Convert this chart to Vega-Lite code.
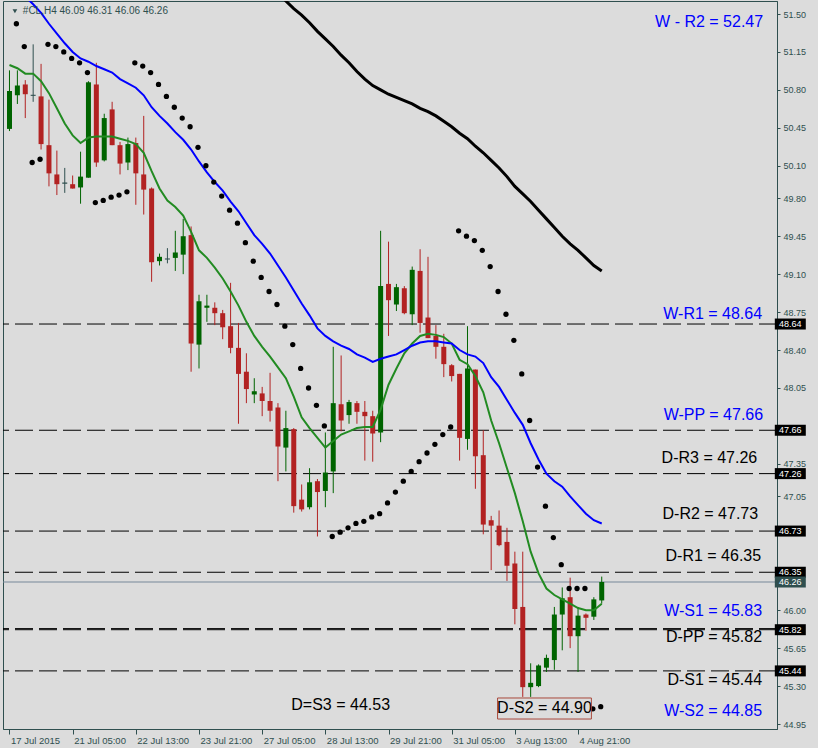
{
  "$schema": "https://vega.github.io/schema/vega-lite/v6.json",
  "width": 774,
  "height": 728,
  "autosize": {"type": "none"},
  "padding": {"left": 3, "top": 1, "right": 41, "bottom": 19},
  "background": "#DCDCDC",
  "config": {
    "view": {"stroke": "#2F4F4F", "strokeWidth": 1, "fill": "#DCDCDC"},
    "font": "Liberation Sans",
    "axis": {"labelOverlap": false, "labelFlush": false, "grid": false}
  },
  "resolve": {"scale": {"color": "independent"}},
  "datasets": {
    "bars": [
      {"k":0,"o":50.44,"h":50.98,"l":50.42,"c":50.79,"dir":"up"},
      {"k":1,"o":50.75,"h":50.98,"l":50.67,"c":50.84,"dir":"up"},
      {"k":2,"o":50.85,"h":50.89,"l":50.54,"c":50.76,"dir":"down"},
      {"k":3,"o":50.755,"h":51.22,"l":50.69,"c":50.745,"dir":"doji"},
      {"k":4,"o":50.74,"h":51.04,"l":50.25,"c":50.30,"dir":"down"},
      {"k":5,"o":50.29,"h":50.71,"l":49.91,"c":50.03,"dir":"down"},
      {"k":6,"o":50.02,"h":50.24,"l":49.83,"c":49.93,"dir":"down"},
      {"k":7,"o":49.945,"h":50.08,"l":49.85,"c":49.935,"dir":"doji"},
      {"k":8,"o":49.93,"h":50.01,"l":49.89,"c":49.89,"dir":"down"},
      {"k":9,"o":49.90,"h":50.23,"l":49.75,"c":50.00,"dir":"up"},
      {"k":10,"o":49.99,"h":50.88,"l":49.99,"c":50.87,"dir":"up"},
      {"k":11,"o":50.85,"h":51.05,"l":50.09,"c":50.13,"dir":"down"},
      {"k":12,"o":50.15,"h":50.58,"l":50.14,"c":50.54,"dir":"up"},
      {"k":13,"o":50.62,"h":50.69,"l":50.29,"c":50.29,"dir":"down"},
      {"k":14,"o":50.29,"h":50.32,"l":50.02,"c":50.12,"dir":"down"},
      {"k":15,"o":50.13,"h":50.36,"l":50.06,"c":50.30,"dir":"up"},
      {"k":16,"o":50.31,"h":50.36,"l":49.74,"c":50.03,"dir":"down"},
      {"k":17,"o":50.02,"h":50.56,"l":49.65,"c":49.88,"dir":"down"},
      {"k":18,"o":49.89,"h":49.90,"l":49.03,"c":49.21,"dir":"down"},
      {"k":19,"o":49.22,"h":49.29,"l":49.18,"c":49.26,"dir":"up"},
      {"k":20,"o":49.245,"h":49.34,"l":49.20,"c":49.235,"dir":"doji"},
      {"k":21,"o":49.25,"h":49.50,"l":49.13,"c":49.30,"dir":"up"},
      {"k":22,"o":49.28,"h":49.61,"l":49.10,"c":49.45,"dir":"up"},
      {"k":23,"o":49.46,"h":49.54,"l":48.20,"c":48.46,"dir":"down"},
      {"k":24,"o":48.45,"h":48.91,"l":48.23,"c":48.85,"dir":"up"},
      {"k":25,"o":48.79,"h":48.91,"l":48.66,"c":48.81,"dir":"up"},
      {"k":26,"o":48.79,"h":48.84,"l":48.63,"c":48.74,"dir":"down"},
      {"k":27,"o":48.74,"h":48.77,"l":48.50,"c":48.61,"dir":"down"},
      {"k":28,"o":48.62,"h":49.02,"l":48.37,"c":48.42,"dir":"down"},
      {"k":29,"o":48.42,"h":48.65,"l":47.72,"c":48.18,"dir":"down"},
      {"k":30,"o":48.20,"h":48.37,"l":47.91,"c":48.04,"dir":"down"},
      {"k":31,"o":47.99,"h":48.14,"l":47.91,"c":48.02,"dir":"up"},
      {"k":32,"o":48.00,"h":48.06,"l":47.79,"c":47.93,"dir":"down"},
      {"k":33,"o":47.93,"h":48.19,"l":47.74,"c":47.84,"dir":"down"},
      {"k":34,"o":47.87,"h":47.91,"l":47.19,"c":47.51,"dir":"down"},
      {"k":35,"o":47.50,"h":47.84,"l":47.28,"c":47.68,"dir":"up"},
      {"k":36,"o":47.67,"h":47.68,"l":46.90,"c":46.96,"dir":"down"},
      {"k":37,"o":47.02,"h":47.16,"l":46.91,"c":46.93,"dir":"down"},
      {"k":38,"o":46.95,"h":47.31,"l":46.93,"c":47.18,"dir":"up"},
      {"k":39,"o":47.19,"h":47.21,"l":46.68,"c":47.09,"dir":"down"},
      {"k":40,"o":47.10,"h":47.64,"l":46.95,"c":47.27,"dir":"up"},
      {"k":41,"o":47.28,"h":48.43,"l":47.08,"c":47.91,"dir":"up"},
      {"k":42,"o":47.90,"h":48.35,"l":47.65,"c":47.75,"dir":"down"},
      {"k":43,"o":47.80,"h":47.94,"l":47.72,"c":47.92,"dir":"up"},
      {"k":44,"o":47.91,"h":47.93,"l":47.72,"c":47.83,"dir":"down"},
      {"k":45,"o":47.83,"h":47.93,"l":47.38,"c":47.79,"dir":"down"},
      {"k":46,"o":47.79,"h":47.84,"l":47.37,"c":47.63,"dir":"down"},
      {"k":47,"o":47.64,"h":49.50,"l":47.55,"c":48.99,"dir":"up"},
      {"k":48,"o":49.01,"h":49.40,"l":48.53,"c":48.86,"dir":"down"},
      {"k":49,"o":48.82,"h":49.01,"l":48.76,"c":48.98,"dir":"up"},
      {"k":50,"o":48.97,"h":48.99,"l":48.73,"c":48.74,"dir":"down"},
      {"k":51,"o":48.73,"h":49.17,"l":48.63,"c":49.14,"dir":"up"},
      {"k":52,"o":49.13,"h":49.33,"l":48.56,"c":48.65,"dir":"down"},
      {"k":53,"o":48.70,"h":49.26,"l":48.51,"c":48.51,"dir":"down"},
      {"k":54,"o":48.53,"h":48.63,"l":48.32,"c":48.43,"dir":"down"},
      {"k":55,"o":48.43,"h":48.55,"l":48.15,"c":48.27,"dir":"down"},
      {"k":56,"o":48.26,"h":48.27,"l":48.11,"c":48.16,"dir":"down"},
      {"k":57,"o":48.18,"h":48.18,"l":47.38,"c":47.59,"dir":"down"},
      {"k":58,"o":47.58,"h":48.62,"l":47.48,"c":48.23,"dir":"up"},
      {"k":59,"o":48.22,"h":48.22,"l":47.12,"c":47.42,"dir":"down"},
      {"k":60,"o":47.43,"h":47.66,"l":46.70,"c":46.79,"dir":"down"},
      {"k":61,"o":46.83,"h":46.87,"l":46.37,"c":46.78,"dir":"down"},
      {"k":62,"o":46.78,"h":46.92,"l":46.59,"c":46.60,"dir":"down"},
      {"k":63,"o":46.63,"h":46.76,"l":46.27,"c":46.41,"dir":"down"},
      {"k":64,"o":46.43,"h":46.54,"l":45.87,"c":46.01,"dir":"down"},
      {"k":65,"o":46.03,"h":46.54,"l":45.20,"c":45.29,"dir":"down"},
      {"k":66,"o":45.29,"h":45.51,"l":45.20,"c":45.33,"dir":"up"},
      {"k":67,"o":45.30,"h":45.50,"l":45.29,"c":45.49,"dir":"up"},
      {"k":68,"o":45.47,"h":45.59,"l":45.43,"c":45.56,"dir":"up"},
      {"k":69,"o":45.54,"h":46.03,"l":45.45,"c":45.96,"dir":"up"},
      {"k":70,"o":45.96,"h":46.21,"l":45.63,"c":46.11,"dir":"up"},
      {"k":71,"o":46.12,"h":46.30,"l":45.65,"c":45.76,"dir":"down"},
      {"k":72,"o":45.76,"h":46.03,"l":45.43,"c":45.95,"dir":"up"},
      {"k":73,"o":45.96,"h":45.97,"l":45.81,"c":45.93,"dir":"down"},
      {"k":74,"o":45.94,"h":46.12,"l":45.91,"c":46.10,"dir":"up"},
      {"k":75,"o":46.09,"h":46.31,"l":46.06,"c":46.26,"dir":"up"}
    ],
    "blue": [
      {"k":0,"v":51.84},{"k":1,"v":51.75},{"k":2,"v":51.66},{"k":3,"v":51.59},{"k":4,"v":51.51},
      {"k":5,"v":51.41},{"k":6,"v":51.32},{"k":7,"v":51.23},{"k":8,"v":51.15},{"k":9,"v":51.09},
      {"k":10,"v":51.06},{"k":11,"v":51.02},{"k":12,"v":50.99},{"k":13,"v":50.96},{"k":14,"v":50.90},
      {"k":15,"v":50.86},{"k":16,"v":50.82},{"k":17,"v":50.75},{"k":18,"v":50.64},{"k":19,"v":50.56},
      {"k":20,"v":50.49},{"k":21,"v":50.41},{"k":22,"v":50.34},{"k":23,"v":50.25},{"k":24,"v":50.14},
      {"k":25,"v":50.04},{"k":26,"v":49.95},{"k":27,"v":49.87},{"k":28,"v":49.77},{"k":29,"v":49.68},
      {"k":30,"v":49.57},{"k":31,"v":49.46},{"k":32,"v":49.38},{"k":33,"v":49.29},{"k":34,"v":49.18},
      {"k":35,"v":49.07},{"k":36,"v":48.95},{"k":37,"v":48.83},{"k":38,"v":48.72},{"k":39,"v":48.60},
      {"k":40,"v":48.53},{"k":41,"v":48.48},{"k":42,"v":48.44},{"k":43,"v":48.41},{"k":44,"v":48.36},
      {"k":45,"v":48.33},{"k":46,"v":48.29},{"k":47,"v":48.32},{"k":48,"v":48.34},{"k":49,"v":48.36},
      {"k":50,"v":48.40},{"k":51,"v":48.44},{"k":52,"v":48.47},{"k":53,"v":48.48},{"k":54,"v":48.48},
      {"k":55,"v":48.47},{"k":56,"v":48.46},{"k":57,"v":48.40},{"k":58,"v":48.36},{"k":59,"v":48.34},
      {"k":60,"v":48.28},{"k":61,"v":48.15},{"k":62,"v":48.06},{"k":63,"v":47.94},{"k":64,"v":47.82},
      {"k":65,"v":47.71},{"k":66,"v":47.54},{"k":67,"v":47.39},{"k":68,"v":47.26},{"k":69,"v":47.19},
      {"k":70,"v":47.14},{"k":71,"v":47.05},{"k":72,"v":46.97},{"k":73,"v":46.89},{"k":74,"v":46.83},
      {"k":75,"v":46.80}
    ],
    "green": [
      {"k":0,"v":51.03},{"k":1,"v":51.00},{"k":2,"v":50.95},{"k":3,"v":50.95},{"k":4,"v":50.88},
      {"k":5,"v":50.77},{"k":6,"v":50.63},{"k":7,"v":50.49},{"k":8,"v":50.38},{"k":9,"v":50.31},
      {"k":10,"v":50.36},{"k":11,"v":50.37},{"k":12,"v":50.37},{"k":13,"v":50.37},{"k":14,"v":50.35},
      {"k":15,"v":50.33},{"k":16,"v":50.30},{"k":17,"v":50.22},{"k":18,"v":50.05},{"k":19,"v":49.89},
      {"k":20,"v":49.78},{"k":21,"v":49.72},{"k":22,"v":49.64},{"k":23,"v":49.49},{"k":24,"v":49.32},
      {"k":25,"v":49.25},{"k":26,"v":49.16},{"k":27,"v":49.06},{"k":28,"v":48.94},{"k":29,"v":48.81},
      {"k":30,"v":48.66},{"k":31,"v":48.53},{"k":32,"v":48.43},{"k":33,"v":48.34},{"k":34,"v":48.24},
      {"k":35,"v":48.14},{"k":36,"v":47.97},{"k":37,"v":47.78},{"k":38,"v":47.68},{"k":39,"v":47.59},
      {"k":40,"v":47.50},{"k":41,"v":47.56},{"k":42,"v":47.62},{"k":43,"v":47.65},{"k":44,"v":47.68},
      {"k":45,"v":47.69},{"k":46,"v":47.69},{"k":47,"v":47.85},{"k":48,"v":48.08},{"k":49,"v":48.23},
      {"k":50,"v":48.37},{"k":51,"v":48.46},{"k":52,"v":48.53},{"k":53,"v":48.55},{"k":54,"v":48.54},
      {"k":55,"v":48.52},{"k":56,"v":48.46},{"k":57,"v":48.31},{"k":58,"v":48.27},{"k":59,"v":48.16},
      {"k":60,"v":48.01},{"k":61,"v":47.75},{"k":62,"v":47.54},{"k":63,"v":47.31},{"k":64,"v":47.08},
      {"k":65,"v":46.82},{"k":66,"v":46.54},{"k":67,"v":46.34},{"k":68,"v":46.20},{"k":69,"v":46.14},
      {"k":70,"v":46.10},{"k":71,"v":46.06},{"k":72,"v":46.02},{"k":73,"v":46.00},{"k":74,"v":46.00},
      {"k":75,"v":46.06}
    ],
    "black": [
      {"k":34,"v":51.70},{"k":35,"v":51.62},{"k":36,"v":51.55},{"k":37,"v":51.49},{"k":38,"v":51.42},
      {"k":39,"v":51.34},{"k":40,"v":51.27},{"k":41,"v":51.20},{"k":42,"v":51.12},{"k":43,"v":51.05},
      {"k":44,"v":50.97},{"k":45,"v":50.90},{"k":46,"v":50.84},{"k":47,"v":50.80},{"k":48,"v":50.76},
      {"k":49,"v":50.73},{"k":50,"v":50.70},{"k":51,"v":50.67},{"k":52,"v":50.63},{"k":53,"v":50.60},
      {"k":54,"v":50.56},{"k":55,"v":50.51},{"k":56,"v":50.46},{"k":57,"v":50.40},{"k":58,"v":50.35},
      {"k":59,"v":50.28},{"k":60,"v":50.22},{"k":61,"v":50.15},{"k":62,"v":50.08},{"k":63,"v":50.00},
      {"k":64,"v":49.91},{"k":65,"v":49.84},{"k":66,"v":49.77},{"k":67,"v":49.69},{"k":68,"v":49.61},
      {"k":69,"v":49.53},{"k":70,"v":49.45},{"k":71,"v":49.38},{"k":72,"v":49.32},{"k":73,"v":49.25},
      {"k":74,"v":49.18},{"k":75,"v":49.13}
    ],
    "sar": [
      {"k":1,"v":51.41},{"k":2,"v":51.20},{"k":3,"v":50.13},{"k":4,"v":50.16},{"k":5,"v":51.22},
      {"k":6,"v":51.20},{"k":7,"v":51.15},{"k":8,"v":51.09},{"k":9,"v":51.05},{"k":10,"v":50.96},
      {"k":11,"v":49.76},{"k":12,"v":49.78},{"k":13,"v":49.81},{"k":14,"v":49.83},{"k":15,"v":49.86},
      {"k":16,"v":51.05},{"k":17,"v":51.02},{"k":18,"v":50.96},{"k":19,"v":50.85},{"k":20,"v":50.74},
      {"k":21,"v":50.64},{"k":22,"v":50.54},{"k":23,"v":50.46},{"k":24,"v":50.27},{"k":25,"v":50.10},
      {"k":26,"v":49.95},{"k":27,"v":49.82},{"k":28,"v":49.69},{"k":29,"v":49.57},{"k":30,"v":49.39},
      {"k":31,"v":49.22},{"k":32,"v":49.07},{"k":33,"v":48.94},{"k":34,"v":48.82},{"k":35,"v":48.62},
      {"k":36,"v":48.45},{"k":37,"v":48.23},{"k":38,"v":48.05},{"k":39,"v":47.89},{"k":40,"v":47.70},
      {"k":41,"v":46.68},{"k":42,"v":46.72},{"k":43,"v":46.76},{"k":44,"v":46.80},{"k":45,"v":46.82},
      {"k":46,"v":46.86},{"k":47,"v":46.89},{"k":48,"v":46.99},{"k":49,"v":47.09},{"k":50,"v":47.19},
      {"k":51,"v":47.28},{"k":52,"v":47.37},{"k":53,"v":47.45},{"k":54,"v":47.53},{"k":55,"v":47.62},
      {"k":56,"v":47.69},{"k":57,"v":49.50},{"k":58,"v":49.45},{"k":59,"v":49.41},{"k":60,"v":49.32},
      {"k":61,"v":49.17},{"k":62,"v":48.94},{"k":63,"v":48.73},{"k":64,"v":48.49},{"k":65,"v":48.18},
      {"k":66,"v":47.75},{"k":67,"v":47.32},{"k":68,"v":46.96},{"k":69,"v":46.67},{"k":70,"v":46.42},
      {"k":71,"v":46.20},{"k":72,"v":46.20},{"k":73,"v":46.20},{"k":74,"v":45.09},{"k":75,"v":45.11}
    ],
    "levels": [
      {"v":48.64},{"v":47.66},{"v":47.26},{"v":46.73},{"v":46.35},{"v":45.83},{"v":45.82},{"v":45.44}
    ],
    "tags": [
      {"v":48.64,"t":"48.64"},{"v":47.66,"t":"47.66"},{"v":47.26,"t":"47.26"},{"v":46.73,"t":"46.73"},
      {"v":46.35,"t":"46.35"},{"v":45.82,"t":"45.82"},{"v":45.44,"t":"45.44"}
    ],
    "rlabels": [
      {"k":95.44,"v":51.43,"t":"W - R2 = 52.47","g":"W"},
      {"k":95.31,"v":48.73,"t":"W-R1 = 48.64","g":"W"},
      {"k":95.44,"v":47.80,"t":"W-PP = 47.66","g":"W"},
      {"k":94.69,"v":47.40,"t":"D-R3 = 47.26","g":"D"},
      {"k":94.81,"v":46.89,"t":"D-R2 = 47.73","g":"D"},
      {"k":95.19,"v":46.50,"t":"D-R1 = 46.35","g":"D"},
      {"k":95.31,"v":45.99,"t":"W-S1 = 45.83","g":"W"},
      {"k":95.31,"v":45.75,"t":"D-PP = 45.82","g":"D"},
      {"k":95.31,"v":45.36,"t":"D-S1 = 45.44","g":"D"},
      {"k":95.31,"v":45.07,"t":"W-S2 = 44.85","g":"W"}
    ],
    "clabels": [
      {"k":41.94,"v":45.13,"t":"D=S3 = 44.53"},
      {"k":67.75,"v":45.10,"t":"D-S2 = 44.90"}
    ]
  },
  "layer": [
    {
      "data": {"name": "levels"},
      "mark": {"type": "rule", "color": "black", "strokeWidth": 1, "strokeDash": [18, 6]},
      "encoding": {
        "y": {
          "field": "v", "type": "quantitative",
          "scale": {"domain": [44.904, 51.620], "nice": false, "zero": false},
          "axis": {
            "orient": "right", "title": null, "grid": false,
            "values": [51.50, 51.15, 50.80, 50.45, 50.10, 49.80, 49.45, 49.10, 48.75, 48.40, 48.05, 47.35, 47.05, 46.00, 45.65, 45.30, 44.95],
            "format": ".2f", "tickSize": 3, "labelPadding": 3,
            "labelFont": "Liberation Sans", "labelFontSize": 9,
            "labelColor": "#2F4F4F", "tickColor": "#2F4F4F", "domainColor": "#2F4F4F",
            "labelOverlap": false
          }
        }
      }
    },
    {
      "data": {"values": [{"t": "46.26"}]},
      "mark": {"type": "rule", "color": "#778899", "strokeWidth": 1},
      "encoding": {"y": {"datum": 46.26, "type": "quantitative", "axis": {"title": null}}}
    },
    {
      "data": {"name": "bars"},
      "mark": {"type": "rule", "strokeWidth": 1},
      "encoding": {
        "x": {
          "field": "k", "type": "quantitative",
          "scale": {"domain": [-0.1875, 96.5625], "nice": false, "zero": false},
          "axis": {
            "orient": "bottom", "title": null, "grid": false,
            "values": [0, 8, 16, 24, 32, 40, 48, 56, 64, 72],
            "labelExpr": "['17 Jul 2015','21 Jul 05:00','22 Jul 13:00','23 Jul 21:00','27 Jul 05:00','28 Jul 13:00','29 Jul 21:00','31 Jul 05:00','3 Aug 13:00','4 Aug 21:00'][round(datum.value/8)]",
            "tickSize": 5, "labelAlign": "left", "labelOffset": 1, "labelPadding": 1,
            "labelFont": "Liberation Sans", "labelFontSize": 9.5, "labelFlush": false, "labelOverlap": false,
            "labelColor": "#2F4F4F", "tickColor": "#2F4F4F", "domainColor": "#2F4F4F"
          }
        },
        "y": {"field": "l", "type": "quantitative", "axis": {"title": null}},
        "y2": {"field": "h"},
        "color": {"field": "dir", "type": "nominal", "scale": {"domain": ["up", "down", "doji"], "range": ["#006400", "#B22222", "#2F4F4F"]}, "legend": null}
      }
    },
    {
      "data": {"name": "bars"},
      "mark": {"type": "bar", "size": 5, "orient": "vertical"},
      "encoding": {
        "x": {"field": "k", "type": "quantitative", "axis": {"title": null}},
        "y": {"field": "o", "type": "quantitative", "axis": {"title": null}},
        "y2": {"field": "c"},
        "color": {"field": "dir", "type": "nominal", "scale": {"domain": ["up", "down", "doji"], "range": ["#006400", "#B22222", "#2F4F4F"]}, "legend": null}
      }
    },
    {
      "data": {"name": "green"},
      "mark": {"type": "line", "color": "#228B22", "strokeWidth": 2, "clip": true},
      "encoding": {
        "x": {"field": "k", "type": "quantitative", "axis": {"title": null}},
        "y": {"field": "v", "type": "quantitative", "axis": {"title": null}}
      }
    },
    {
      "data": {"name": "blue"},
      "mark": {"type": "line", "color": "#0000FF", "strokeWidth": 2, "clip": true},
      "encoding": {
        "x": {"field": "k", "type": "quantitative", "axis": {"title": null}},
        "y": {"field": "v", "type": "quantitative", "axis": {"title": null}}
      }
    },
    {
      "data": {"name": "black"},
      "mark": {"type": "line", "color": "#000000", "strokeWidth": 3, "clip": true},
      "encoding": {
        "x": {"field": "k", "type": "quantitative", "axis": {"title": null}},
        "y": {"field": "v", "type": "quantitative", "axis": {"title": null}}
      }
    },
    {
      "data": {"name": "sar"},
      "mark": {"type": "point", "shape": "circle", "filled": true, "size": 28, "color": "#000000", "opacity": 1, "xOffset": -1, "clip": true},
      "encoding": {
        "x": {"field": "k", "type": "quantitative", "axis": {"title": null}},
        "y": {"field": "v", "type": "quantitative", "axis": {"title": null}}
      }
    },
    {
      "data": {"name": "rlabels"},
      "mark": {"type": "text", "align": "right", "baseline": "middle", "fontSize": 16, "font": "Liberation Sans"},
      "encoding": {
        "x": {"field": "k", "type": "quantitative", "axis": {"title": null}},
        "y": {"field": "v", "type": "quantitative", "axis": {"title": null}},
        "text": {"field": "t"},
        "color": {"field": "g", "type": "nominal", "scale": {"domain": ["W", "D"], "range": ["#0000FF", "#000000"]}, "legend": null}
      }
    },
    {
      "data": {"name": "clabels"},
      "mark": {"type": "text", "align": "center", "baseline": "middle", "fontSize": 16, "font": "Liberation Sans", "color": "#000000"},
      "encoding": {
        "x": {"field": "k", "type": "quantitative", "axis": {"title": null}},
        "y": {"field": "v", "type": "quantitative", "axis": {"title": null}},
        "text": {"field": "t"}
      }
    },
    {
      "data": {"values": [{"t": "D-S2 = 44.90"}]},
      "mark": {"type": "rect", "fill": null, "fillOpacity": 0, "stroke": "#A8483C", "strokeWidth": 1},
      "encoding": {
        "x": {"datum": 61.81, "type": "quantitative", "axis": {"title": null}},
        "x2": {"datum": 73.69},
        "y": {"datum": 45.19, "type": "quantitative", "axis": {"title": null}},
        "y2": {"datum": 44.996}
      }
    },
    {
      "data": {"name": "tags"},
      "mark": {"type": "tick", "orient": "horizontal", "size": 31, "thickness": 11, "color": "#000000", "opacity": 1, "clip": false},
      "encoding": {
        "x": {"datum": 98.88, "type": "quantitative", "axis": {"title": null}},
        "y": {"field": "v", "type": "quantitative", "axis": {"title": null}}
      }
    },
    {
      "data": {"name": "tags"},
      "mark": {"type": "text", "align": "center", "baseline": "middle", "fontSize": 9, "font": "Liberation Sans", "color": "#FFFFFF", "clip": false},
      "encoding": {
        "x": {"datum": 98.88, "type": "quantitative", "axis": {"title": null}},
        "y": {"field": "v", "type": "quantitative", "axis": {"title": null}},
        "text": {"field": "t"}
      }
    },
    {
      "data": {"values": [{"t": "46.26"}]},
      "mark": {"type": "tick", "orient": "horizontal", "size": 31, "thickness": 11, "color": "#2F4F4F", "opacity": 1, "clip": false},
      "encoding": {
        "x": {"datum": 98.88, "type": "quantitative", "axis": {"title": null}},
        "y": {"datum": 46.26, "type": "quantitative", "axis": {"title": null}}
      }
    },
    {
      "data": {"values": [{"t": "46.26"}]},
      "mark": {"type": "text", "align": "center", "baseline": "middle", "fontSize": 9, "font": "Liberation Sans", "color": "#FFFFFF", "clip": false},
      "encoding": {
        "x": {"datum": 98.88, "type": "quantitative", "axis": {"title": null}},
        "y": {"datum": 46.26, "type": "quantitative", "axis": {"title": null}},
        "text": {"field": "t"}
      }
    },
    {
      "data": {"values": [{"t": "#CL,H4  46.09 46.31 46.06 46.26"}]},
      "mark": {"type": "text", "align": "left", "baseline": "middle", "fontSize": 10, "font": "Liberation Sans", "color": "#2F4F4F"},
      "encoding": {
        "x": {"datum": 1.69, "type": "quantitative", "axis": {"title": null}},
        "y": {"datum": 51.53, "type": "quantitative", "axis": {"title": null}},
        "text": {"field": "t"}
      }
    },
    {
      "data": {"values": [{"t": "menu"}]},
      "mark": {"type": "point", "shape": "triangle-down", "filled": true, "size": 22, "color": "#2F4F4F", "opacity": 1},
      "encoding": {
        "x": {"datum": 0.69, "type": "quantitative", "axis": {"title": null}},
        "y": {"datum": 51.525, "type": "quantitative", "axis": {"title": null}}
      }
    }
  ]
}
